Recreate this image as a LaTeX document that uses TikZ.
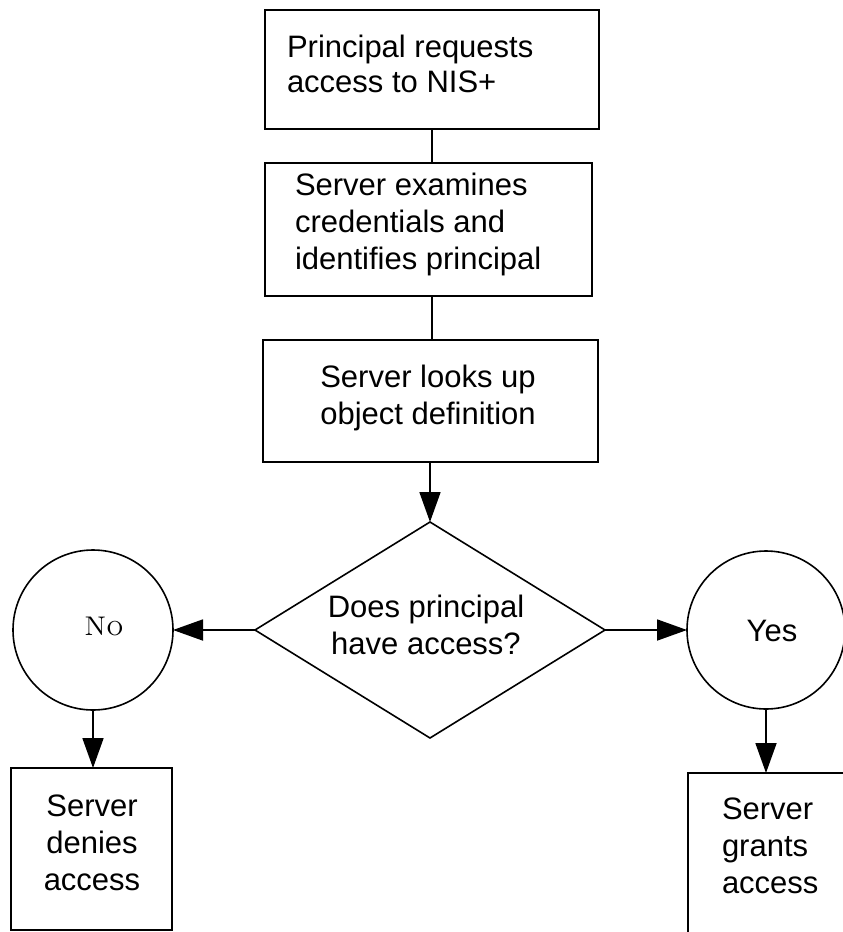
\documentclass[tikz,border=0pt]{standalone}
\usepackage{fontspec}
\setsansfont{Liberation Sans}
\usetikzlibrary{arrows.meta}
\begin{document}
\begin{tikzpicture}[x=1pt,y=-1pt,
  every node/.style={inner sep=0pt, outer sep=0pt},
  frame/.style={draw, line width=1.8pt, rectangle},
  ring/.style={draw, line width=1.6pt, circle, minimum size=#1},
  rhomb/.style={draw, line width=1.6pt},
  txt/.style={font=\sffamily\fontsize{31}{37}\selectfont},
  link/.style={line width=1.8pt},
  arrow/.style={link, -{Triangle[length=30pt,width=21pt]}},
]
\useasboundingbox (0,0) rectangle (843,932);

% process boxes
\node[frame, minimum width=334pt, minimum height=119pt] (b1) at (432,69.5) {};
\node[frame, minimum width=327pt, minimum height=133pt] (b2) at (428.5,229.5) {};
\node[frame, minimum width=335pt, minimum height=122pt] (b3) at (430.5,401) {};

% decision diamond, corners named
\draw[rhomb] (430,522) coordinate (dn) -- (605,630) coordinate (de)
  -- (430,738) coordinate (ds) -- (255,630) coordinate (dw) -- cycle;

% outcome circles
\node[ring=160pt] (no) at (93,630) {};
\node[ring=158pt] (yes) at (766,630) {};

% result boxes
\node[frame, minimum width=161pt, minimum height=162pt] (nbox) at (91.5,849) {};
\node[frame, minimum width=162pt, minimum height=167pt] (ybox) at (769,856.5) {};

% texts
\node[txt, font=\sffamily\fontsize{31}{35}\selectfont, align=left, anchor=north west] (t1) at (287,35)
  {Principal requests\\access to NIS+};
\node[txt, align=left, anchor=north west] (t2) at (295,173)
  {Server examines\\credentials and\\identifies principal};
\node[txt, align=center, anchor=north] (t3) at (428,365)
  {Server looks up\\object definition};
\node[txt, align=center, anchor=north] (t4) at (426,595)
  {Does principal\\have access?};
\node[font=\rmfamily\fontsize{27}{32}\selectfont] (tno) at (104,626) {\textsc{No}};
\node[txt] (tyes) at (772,631) {Yes};
\node[txt, align=center, anchor=north] (t5) at (92,795) {Server\\denies\\access};
\node[txt, align=left, anchor=north west] (t6) at (722,798) {Server\\grants\\access};

% connectors
\draw[link] (b1.south) -- (b1.south |- b2.north);
\draw[link] (b1.south |- b2.south) -- (b1.south |- b3.north);
\draw[arrow] (b3.south -| dn) -- (dn);
\draw[arrow] (dw) -- (no.east);
\draw[arrow] (de) -- (yes.west);
\draw[arrow] (no.south) -- (no.south |- nbox.north);
\draw[arrow] (yes.south) -- (yes.south |- ybox.north);
\end{tikzpicture}
\end{document}
